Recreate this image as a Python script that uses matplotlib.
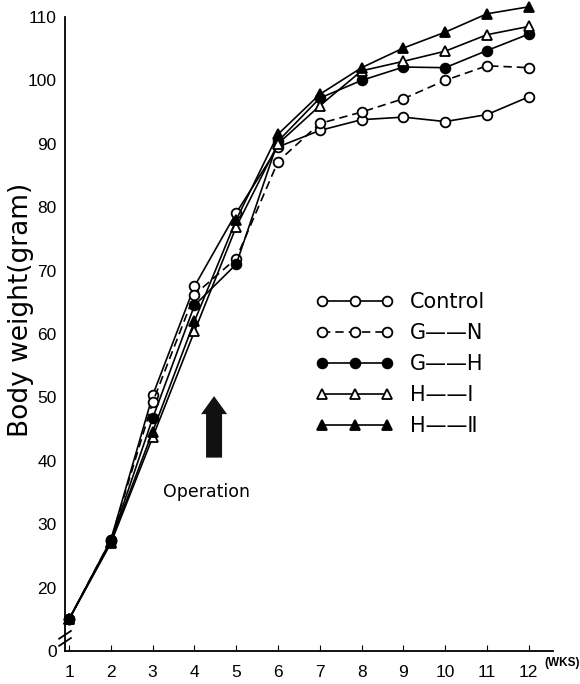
import matplotlib
matplotlib.use("Agg")
import matplotlib.pyplot as plt
from matplotlib import font_manager
from matplotlib.patches import FancyArrow

# ---- data ----
weeks = [1, 2, 3, 4, 5, 6, 7, 8, 9, 10, 11, 12]
control = [15.0, 27.5, 50.3, 67.5, 79.1, 89.5, 92.1, 93.8, 94.2, 93.5, 94.6, 97.4]
g_n = [15.0, 27.5, 49.2, 66.2, 71.9, 87.2, 93.2, 95.0, 97.1, 100.0, 102.3, 102.0]
g_h = [15.0, 27.3, 46.7, 64.5, 71.0, 90.4, 97.2, 100.0, 102.1, 102.0, 104.7, 107.3]
h_i = [15.0, 27.0, 43.7, 60.4, 76.9, 90.0, 96.0, 101.5, 103.0, 104.6, 107.2, 108.5]
h_ii = [15.0, 27.2, 44.6, 62.0, 78.0, 91.5, 97.8, 102.0, 105.1, 107.6, 110.5, 111.6]
labels = ["Control", "G——N", "G——H", "H——Ⅰ", "H——Ⅱ"]

y_ticks = [10, 20, 30, 40, 50, 60, 70, 80, 90, 100, 110]
y_ticklabels = ["0", "20", "30", "40", "50", "60", "70", "80", "90", "100", "110"]
x_ticklabels = [str(w) for w in weeks]

plt.rcParams['font.family'] = ['DejaVu Sans']


def have_font(name):
    try:
        font_manager.findfont(font_manager.FontProperties(family=name),
                              fallback_to_default=False)
        return True
    except Exception:
        return False


if have_font('Liberation Sans Narrow'):
    tick_family = 'Liberation Sans Narrow'
    tick_size = 14
else:
    tick_family = 'Liberation Sans'
    tick_size = 12.5

fig = plt.figure(figsize=(5.8, 6.84), dpi=100)
ax = fig.add_axes([0.1121, 0.04825, 0.8414, 0.9455])

styles = [
    dict(marker='o', mfc='white', ls='-'),
    dict(marker='o', mfc='white', ls=(0, (5, 3))),
    dict(marker='o', mfc='black', ls='-'),
    dict(marker='^', mfc='white', ls='-'),
    dict(marker='^', mfc='black', ls='-'),
]
series = [control, g_n, g_h, h_i, h_ii]
handles = []
for vals, st, lab in zip(series, styles, labels):
    h, = ax.plot(weeks, vals, color='black', lw=1.2, marker=st['marker'],
                 ms=7, mfc=st['mfc'], mec='black', mew=1.3, ls=st['ls'],
                 clip_on=False, label=lab)
    handles.append(h)

ax.set_xlim(0.904, 12.58)
ax.set_ylim(10, 112)
ax.spines['top'].set_visible(False)
ax.spines['right'].set_visible(False)
ax.spines['left'].set_bounds(10, 110)
for s in ['left', 'bottom']:
    ax.spines[s].set_linewidth(1.3)

ax.set_xticks(weeks)
ax.set_xticklabels(x_ticklabels, fontsize=tick_size, family=tick_family)
ax.set_yticks(y_ticks)
ax.set_yticklabels(y_ticklabels, fontsize=tick_size, family=tick_family)
ax.tick_params(axis='x', direction='in', length=4, pad=10)
ax.tick_params(axis='y', direction='in', length=0, pad=6)

fig.text(544 / 580, 1 - 663 / 684, "(WKS)", fontsize=8.5, ha='left', va='center',
         family=tick_family, fontweight='bold')

fig.text(21 / 580, 1 - 310 / 684, "Body weight(gram)", rotation=90, fontsize=19,
         ha='center', va='center')

# axis break marks on the y axis
for off in (0.0, 0.011):
    ax.plot([-0.012, 0.012], [0.008 + off, 0.020 + off], transform=ax.transAxes,
            color='black', lw=1.3, clip_on=False)

# operation arrow and label
ax.add_patch(FancyArrow(4.47, 40.5, 0, 9.7, width=0.383, head_width=0.622,
                        head_length=2.84, length_includes_head=True,
                        color='#111111', lw=0))
ax.text(4.30, 35.1, "Operation", fontsize=12.5, ha='center', va='center')

ax.legend(handles, labels, loc='upper left', bbox_to_anchor=(316 / 580, 1 - 292 / 684),
          bbox_transform=fig.transFigure, numpoints=3, handlelength=3.7,
          handletextpad=0.8, frameon=False, fontsize=15, labelspacing=0.53,
          borderpad=0, borderaxespad=0)

fig.savefig("out.png", dpi=100)
